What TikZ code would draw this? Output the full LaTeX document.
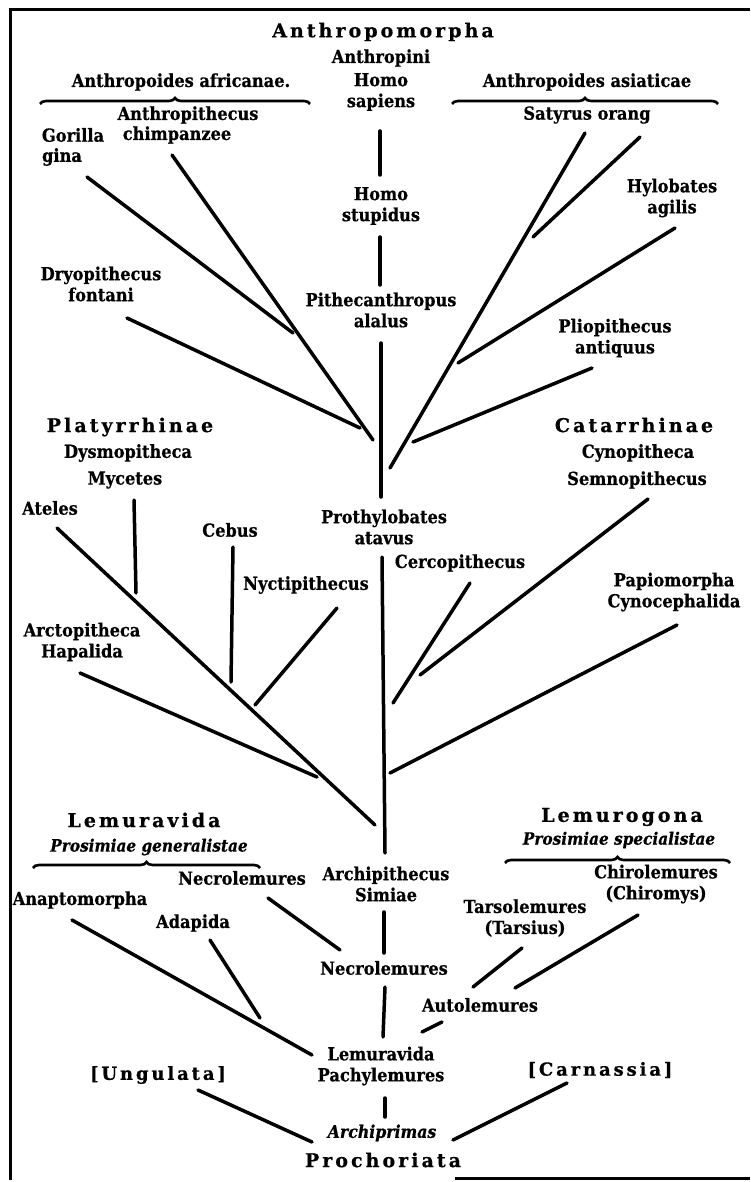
\documentclass[tikz,border=0pt]{standalone}
\usepackage{fontspec}
\usetikzlibrary{decorations.pathreplacing}
\newfontfamily\labfont{DejaVu Serif}[FakeStretch=0.9, FakeBold=0.6]
\newfontfamily\bigfont{DejaVu Serif}[LetterSpace=16, FakeBold=0.6]
\tikzset{
  lab/.style={font=\labfont\bfseries\fontsize{18}{21}\selectfont, align=center, inner sep=0pt},
  big/.style={font=\bigfont\bfseries\fontsize{19}{21}\selectfont, inner sep=0pt},
  ital/.style={font=\labfont\bfseries\itshape\fontsize{17}{18}\selectfont, inner sep=0pt},
  br/.style={line width=3.5pt, line cap=round},
  bracex/.style={decorate, decoration={brace, amplitude=6pt}, line width=2.6pt},
  frame/.style={line width=3pt}
}
\begin{document}
\begin{tikzpicture}[x=1pt,y=-1pt]
\useasboundingbox (0,0) rectangle (750,1182);
% frame
\coordinate (f1) at (750,10);
\coordinate (f2) at (10,10);
\coordinate (f3) at (10,1180);
\coordinate (f4) at (455,1178);
\coordinate (f5) at (750,1178);
\draw[frame] (f1) -- (f2) -- (f3);
\draw[frame] (f4) -- (f5);

% ---------- texts ----------
\node[big] (anthropomorpha) at (383,32) {Anthropomorpha};
\node[lab] (anthropini) at (381,58) {Anthropini};
\node[lab] (sapiens) at (381,92) {Homo\\sapiens};
\node[lab] (africanae) at (181,82) {Anthropoides africanae.};
\node[lab] (asiaticae) at (587,82) {Anthropoides asiaticae};
\node[lab] (anthropithecus) at (188,115) {Anthropithecus};
\node[lab] (gorilla) at (73,135) {Gorilla};
\node[lab] (chimp) at (177,135) {chimpanzee};
\node[lab] (gina) at (62,157) {gina};
\node[lab] (orang) at (587,115) {Satyrus orang};
\node[lab] (hylobates) at (672,198) {Hylobates\\agilis};
\node[lab] (stupidus) at (381,206) {Homo\\stupidus};
\node[lab] (dryo) at (101,284) {Dryopithecus\\fontani};
\node[lab] (pithec) at (381,310) {Pithecanthropus\\alalus};
\node[lab] (plio) at (615,338) {Pliopithecus\\antiquus};
\node[big] (platy) at (130,427) {Platyrrhinae};
\node[lab] (dysmo) at (128,453) {Dysmopitheca};
\node[lab] (mycetes) at (125,480) {Mycetes};
\node[big] (catarr) at (634,425) {Catarrhinae};
\node[lab] (cyno) at (638,453) {Cynopitheca};
\node[lab] (semno) at (637,480) {Semnopithecus};
\node[lab] (ateles) at (50,508) {Ateles};
\node[lab] (cebus) at (230,530) {Cebus};
\node[lab] (prothy) at (384,527) {Prothylobates\\atavus};
\node[lab] (cerco) at (460,563) {Cercopithecus};
\node[lab] (nycti) at (306,585) {Nyctipithecus};
\node[lab] (papio) at (674,592) {Papiomorpha\\Cynocephalida};
\node[lab] (arcto) at (82,642) {Arctopitheca\\Hapalida};
\node[big] (lemuravidaA) at (144,820) {Lemuravida};
\node[ital] (generalistae) at (149,847) {Prosimiae generalistae};
\node[big] (lemurogona) at (622,817) {Lemurogona};
\node[ital] (specialistae) at (619,840) {Prosimiae specialistae};
\node[lab] (necroL) at (242,878) {Necrolemures};
\node[lab] (archipith) at (386,884) {Archipithecus\\Simiae};
\node[lab] (chiro) at (656,884) {Chirolemures\\(Chiromys)};
\node[lab] (anapto) at (80,900) {Anaptomorpha};
\node[lab] (adapida) at (193,923) {Adapida};
\node[lab] (tarso) at (525,918) {Tarsolemures\\(Tarsius)};
\node[lab] (necro) at (384,968) {Necrolemures};
\node[lab] (auto) at (480,1005) {Autolemures};
\node[lab] (pachy) at (381,1066) {Lemuravida\\Pachylemures};
\node[big,font=\bigfont\bfseries\fontsize{18}{20}\selectfont] (ungulata) at (158,1075) {[Ungulata]};
\node[big,font=\bigfont\bfseries\fontsize{18}{20}\selectfont] (carnassia) at (600,1070) {[Carnassia]};
\node[ital,font=\labfont\bfseries\itshape\fontsize{17.5}{18}\selectfont] (archiprimas) at (382,1133) {Archiprimas};
\node[big] (prochoriata) at (383,1160) {Prochoriata};

% ---------- braces ----------
\coordinate (bAa) at (40,104); \coordinate (bAb) at (310,104);
\coordinate (bBa) at (452,104); \coordinate (bBb) at (718,104);
\coordinate (bCa) at (33,868); \coordinate (bCb) at (260,868);
\coordinate (bDa) at (505,863); \coordinate (bDb) at (730,863);
\draw[bracex] (bAa) -- (bAb);
\draw[bracex] (bBa) -- (bBb);
\draw[bracex] (bCa) -- (bCb);
\draw[bracex] (bDa) -- (bDb);

% ---------- trunk ----------
\coordinate (t1a) at (380,131);  \coordinate (t1b) at (380,175);
\coordinate (t2a) at (380,237);  \coordinate (t2b) at (380,285);
\coordinate (t3a) at (381,343);  \coordinate (t3b) at (381,497);
\coordinate (t4a) at (382,557);  \coordinate (t4b) at (385,853);
\coordinate (t5a) at (384,912);  \coordinate (t5b) at (384,953);
\coordinate (t6a) at (385,987);  \coordinate (t6b) at (383,1037);
\coordinate (t7a) at (385,1098); \coordinate (t7b) at (385,1117);
\foreach \i in {1,...,7} {\draw[br] (t\i a) -- (t\i b);}

% ---------- upper branches ----------
\coordinate (gor1) at (87,177);  \coordinate (gor2) at (293,333);
\coordinate (chi1) at (172,155); \coordinate (chi2) at (373,440);
\coordinate (dry1) at (127,318); \coordinate (dry2) at (360,428);
\coordinate (ora1) at (585,133); \coordinate (ora2) at (390,468);
\coordinate (orb1) at (640,137); \coordinate (orb2) at (533,237);
\coordinate (hyl1) at (675,228); \coordinate (hyl2) at (458,363);
\coordinate (pli1) at (592,368); \coordinate (pli2) at (413,442);
\foreach \n in {gor,chi,dry,ora,orb,hyl,pli} {\draw[br] (\n1) -- (\n2);}

% ---------- middle branches ----------
\coordinate (ate1) at (57,528);  \coordinate (ate2) at (375,825);
\coordinate (myc1) at (134,500); \coordinate (myc2) at (136,593);
\coordinate (ceb1) at (233,547); \coordinate (ceb2) at (231,682);
\coordinate (nyc1) at (337,608); \coordinate (nyc2) at (255,705);
\coordinate (arc1) at (80,673);  \coordinate (arc2) at (317,777);
\coordinate (cer1) at (470,583); \coordinate (cer2) at (393,703);
\coordinate (sem1) at (648,499); \coordinate (sem2) at (420,675);
\coordinate (pap1) at (677,625); \coordinate (pap2) at (390,773);
\foreach \n in {ate,myc,ceb,nyc,arc,cer,sem,pap} {\draw[br] (\n1) -- (\n2);}

% ---------- lower branches ----------
\coordinate (nel1) at (268,898);  \coordinate (nel2) at (340,950);
\coordinate (ana1) at (72,920);   \coordinate (ana2) at (312,1055);
\coordinate (ada1) at (210,940);  \coordinate (ada2) at (260,1018);
\coordinate (tar1) at (522,948);  \coordinate (tar2) at (473,987);
\coordinate (chr1) at (638,915);  \coordinate (chr2) at (515,988);
\coordinate (aut1) at (442,1022); \coordinate (aut2) at (422,1032);
\coordinate (ung1) at (198,1090); \coordinate (ung2) at (312,1142);
\coordinate (car1) at (567,1083); \coordinate (car2) at (453,1140);
\foreach \n in {nel,ana,ada,tar,chr,aut,ung,car} {\draw[br] (\n1) -- (\n2);}
\end{tikzpicture}
\end{document}
